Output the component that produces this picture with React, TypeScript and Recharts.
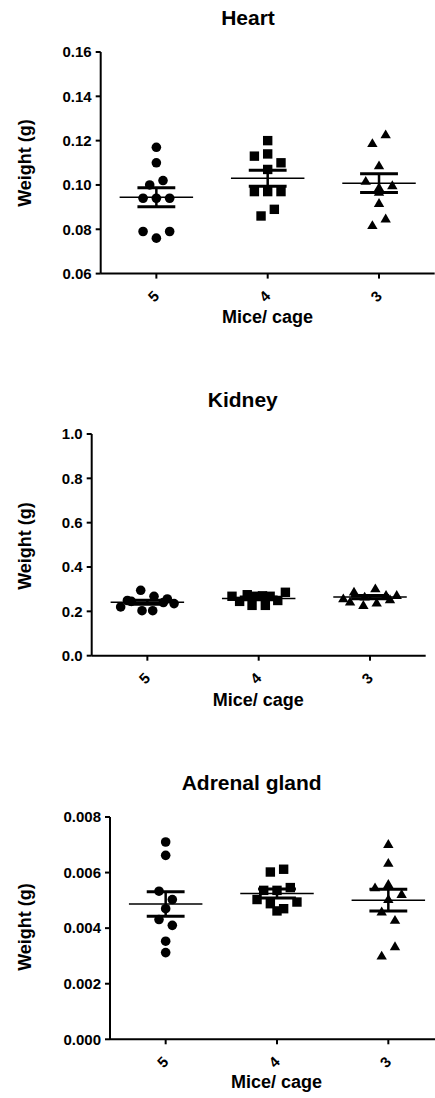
import { ScatterChart, Scatter, XAxis, YAxis, ReferenceLine } from 'recharts';

// x categories: number of mice per cage
const CAGE_LABELS = ['5', '4', '3'];

// organ weights (g), one list per cage density
const HEART_5 = [0.117, 0.110, 0.100, 0.102, 0.094, 0.094, 0.094, 0.079, 0.076, 0.079];
const HEART_4 = [0.120, 0.113, 0.114, 0.110, 0.107, 0.097, 0.097, 0.097, 0.086, 0.089];
const HEART_3 = [0.119, 0.123, 0.109, 0.102, 0.099, 0.100, 0.097, 0.092, 0.082, 0.085];
const HEART_TICKS = [0.06, 0.08, 0.1, 0.12, 0.14, 0.16];

const KIDNEY_5 = [0.249, 0.295, 0.268, 0.256, 0.220, 0.245, 0.203, 0.203, 0.240, 0.235];
const KIDNEY_4 = [0.268, 0.245, 0.275, 0.227, 0.268, 0.270, 0.227, 0.268, 0.249, 0.286];
const KIDNEY_3 = [0.260, 0.290, 0.245, 0.268, 0.305, 0.230, 0.276, 0.241, 0.275, 0.256];
const KIDNEY_TICKS = [0, 0.2, 0.4, 0.6, 0.8, 1.0];

const ADRENAL_5 = [0.00710, 0.00662, 0.00533, 0.00503, 0.00470, 0.00431, 0.00410, 0.00353, 0.00312];
const ADRENAL_4 = [0.00602, 0.00612, 0.00536, 0.00536, 0.00546, 0.00503, 0.00488, 0.00470, 0.00494, 0.00462];
const ADRENAL_3 = [0.00704, 0.00636, 0.00548, 0.00560, 0.00524, 0.00506, 0.00461, 0.00431, 0.00302, 0.00336];
const ADRENAL_TICKS = [0, 0.002, 0.004, 0.006, 0.008];

const FONT = 'Arial, "Liberation Sans", sans-serif';
const PLOT_W = 334;
const BAND = PLOT_W / 3;

// mean and standard error of the mean
function stats(vals: number[]) {
  const n = vals.length;
  const mean = vals.reduce((a, b) => a + b, 0) / n;
  const sd = Math.sqrt(vals.reduce((a, b) => a + (b - mean) ** 2, 0) / (n - 1));
  return { mean, sem: sd / Math.sqrt(n) };
}

// Prism-style scatter: points with close values share a row and are spread sideways
function swarm(vals: number[], pxPerUnit: number) {
  const ROW_PX = 10.5, STEP = 13.3, MAX_HALF = 26.7;
  const order = vals.map((_, i) => i).sort((a, b) => vals[b] - vals[a]);
  const offs = new Array(vals.length).fill(0);
  let row: number[] = [];
  const flush = () => {
    const members = [...row].sort((a, b) => a - b);
    const n = members.length;
    const gap = n > 1 ? Math.min(STEP, (2 * MAX_HALF) / (n - 1)) : 0;
    members.forEach((idx, k) => (offs[idx] = ((k - (n - 1) / 2) * gap) / BAND));
    row = [];
  };
  order.forEach((i) => {
    if (row.length && (vals[row[0]] - vals[i]) * pxPerUnit > ROW_PX) flush();
    row.push(i);
  });
  flush();
  return offs;
}

const shapes = [
  (p: any) => <circle cx={p.cx} cy={p.cy} r={4.8} fill="#000" />,
  (p: any) => <rect x={p.cx - 4.7} y={p.cy - 4.7} width={9.4} height={9.4} fill="#000" />,
  (p: any) => (
    <polygon
      points={`${p.cx},${p.cy - 4.6} ${p.cx - 5.2},${p.cy + 4.2} ${p.cx + 5.2},${p.cy + 4.2}`}
      fill="#000"
    />
  ),
];

const CageTick = (props: any) => {
  const cx = props.x - 3;
  const cy = props.y + 15.6;
  return (
    <text
      x={cx}
      y={cy}
      transform={`rotate(-45 ${cx} ${cy})`}
      textAnchor="middle"
      dominantBaseline="central"
      fontSize={15}
      fontWeight="bold"
      fontFamily={FONT}
      fill="#000"
    >
      {CAGE_LABELS[props.payload.value]}
    </text>
  );
};

const textStyle = (x: number, y: number, size: number, rotate = false): React.CSSProperties => ({
  position: 'absolute',
  left: x,
  top: y,
  transform: `translate(-50%, -50%)${rotate ? ' rotate(-90deg)' : ''}`,
  whiteSpace: 'nowrap',
  fontFamily: FONT,
  fontWeight: 'bold',
  fontSize: size,
  lineHeight: 'normal',
  color: '#000',
});

type PanelProps = {
  title: string;
  groups: number[][];
  ticks: number[];
  digits: number;
  left: number;
  top: number;
  plotH: number;
  titleX: number;
  titleY: number;
  yLabelY: number;
  xLabelX: number;
  xLabelY: number;
};

function Panel(p: PanelProps) {
  const lo = p.ticks[0];
  const hi = p.ticks[p.ticks.length - 1];
  const pxPerUnit = p.plotH / (hi - lo);
  const series = p.groups.map((vals, g) => {
    const offs = swarm(vals, pxPerUnit);
    return vals.map((v, i) => ({ x: g + offs[i], y: v }));
  });
  const summary = p.groups.map(stats);
  const MT = 40;
  const width = p.left + PLOT_W + 10;
  const height = MT + p.plotH + 50;

  return (
    <>
      <div style={textStyle(p.titleX, p.titleY, 21)}>{p.title}</div>
      <div style={textStyle(25, p.yLabelY, 18, true)}>Weight (g)</div>
      <div style={textStyle(p.xLabelX, p.xLabelY, 18)}>Mice/ cage</div>
      <div style={{ position: 'absolute', left: 0, top: p.top - MT }}>
        <ScatterChart width={width} height={height} margin={{ top: MT, right: 10, bottom: 0, left: 0 }}>
          <XAxis
            type="number"
            dataKey="x"
            domain={[-0.5, 2.5]}
            ticks={[0, 1, 2]}
            height={50}
            tickSize={5}
            tickMargin={2}
            axisLine={{ stroke: '#000', strokeWidth: 2 }}
            tickLine={{ stroke: '#000', strokeWidth: 2 }}
            tick={(t: any) => <CageTick {...t} />}
          />
          <YAxis
            type="number"
            dataKey="y"
            domain={[lo, hi]}
            ticks={p.ticks}
            width={p.left}
            tickSize={5}
            tickMargin={4}
            axisLine={{ stroke: '#000', strokeWidth: 2 }}
            tickLine={{ stroke: '#000', strokeWidth: 2 }}
            tick={{ fontSize: 15, fontWeight: 'bold', fill: '#000', fontFamily: FONT }}
            tickFormatter={(v: number) => v.toFixed(p.digits)}
          />
          {series.map((data, g) => (
            <Scatter key={g} data={data} shape={shapes[g]} isAnimationActive={false} />
          ))}
          {summary.map(({ mean, sem }, g) => [
            <ReferenceLine key={`m${g}`} segment={[{ x: g - 0.33, y: mean }, { x: g + 0.33, y: mean }]} stroke="#000" strokeWidth={1.5} />,
            <ReferenceLine key={`u${g}`} segment={[{ x: g - 0.17, y: mean + sem }, { x: g + 0.17, y: mean + sem }]} stroke="#000" strokeWidth={3} />,
            <ReferenceLine key={`d${g}`} segment={[{ x: g - 0.17, y: mean - sem }, { x: g + 0.17, y: mean - sem }]} stroke="#000" strokeWidth={3} />,
            <ReferenceLine key={`v${g}`} segment={[{ x: g, y: mean - sem }, { x: g, y: mean + sem }]} stroke="#000" strokeWidth={2.5} />,
          ])}
        </ScatterChart>
      </div>
    </>
  );
}

export default function App() {
  return (
    <div
      style={{
        position: 'absolute',
        left: 0,
        top: 0,
        width: 435,
        height: 1098,
        overflow: 'hidden',
        background: '#fff',
      }}
    >
      <Panel
        title="Heart"
        groups={[HEART_5, HEART_4, HEART_3]}
        ticks={HEART_TICKS}
        digits={2}
        left={100.7}
        top={51.7}
        plotH={221.6}
        titleX={248}
        titleY={18.3}
        yLabelY={162.5}
        xLabelX={267.5}
        xLabelY={316.7}
      />
      <Panel
        title="Kidney"
        groups={[KIDNEY_5, KIDNEY_4, KIDNEY_3]}
        ticks={KIDNEY_TICKS}
        digits={1}
        left={91.7}
        top={434.3}
        plotH={221.7}
        titleX={242.8}
        titleY={400.2}
        yLabelY={545.8}
        xLabelX={258.3}
        xLabelY={699.5}
      />
      <Panel
        title="Adrenal gland"
        groups={[ADRENAL_5, ADRENAL_4, ADRENAL_3]}
        ticks={ADRENAL_TICKS}
        digits={3}
        left={110}
        top={816.7}
        plotH={222.3}
        titleX={251.7}
        titleY={783}
        yLabelY={927}
        xLabelX={276.5}
        xLabelY={1082}
      />
    </div>
  );
}
